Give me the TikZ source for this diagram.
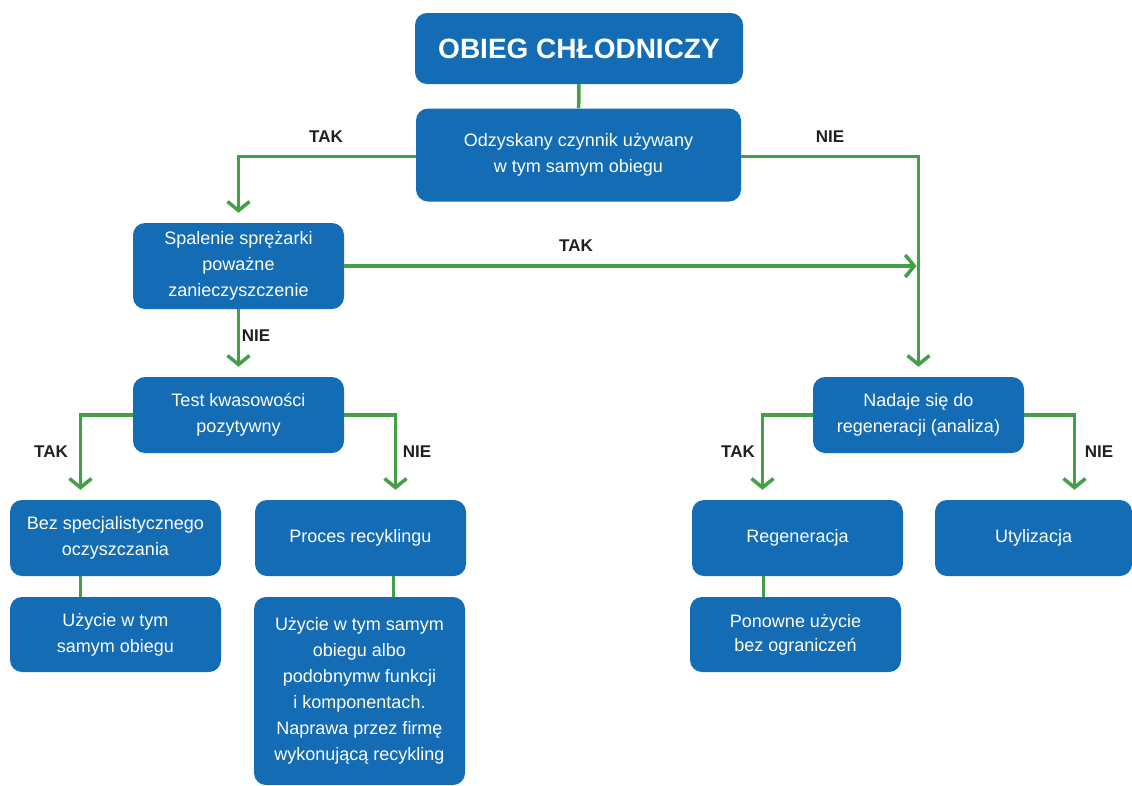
\documentclass[tikz,border=0pt]{standalone}
\usepackage{fontspec}
\setmainfont{Liberation Sans}
\usetikzlibrary{arrows.meta}
\definecolor{boxblue}{RGB}{19,108,180}
\definecolor{arrowgreen}{RGB}{67,160,71}
\definecolor{labelgray}{RGB}{35,31,32}

\begin{document}
\begin{tikzpicture}[x=1pt,y=-1pt,%
	every node/.style = {font=\fontsize{18}{26}\selectfont},
	box/.style = {shape=rectangle, rounded corners=12pt, fill=boxblue, text=white, align=center,
	  minimum width=211pt, minimum height=76pt, inner sep=0pt},
	answer/.style = {font=\fontsize{17}{20}\selectfont\bfseries, text=labelgray},
	link/.style = {draw=arrowgreen, line width=3.5pt},
	arrow/.style = {link, -{Straight Barb[length=9pt,width=22pt]}, shorten >=10pt}
	]
  \useasboundingbox (0,0) rectangle (1132,785);
  \node [box, minimum width=328pt, minimum height=71pt, font=\fontsize{28}{32}\selectfont\bfseries] (title) at (579,48.5) {OBIEG CHŁODNICZY};
  \node [box, minimum width=325pt, minimum height=93pt] (reuse) at (578.5,155) {Odzyskany czynnik używany\\w tym samym obiegu};
  \node [box, minimum height=86pt] (burn) at (238.5,266) {Spalenie sprężarki\\poważne\\zanieczyszczenie};
  \node [box] (acid) at (238.5,415) {Test kwasowości\\pozytywny};
  \node [box] (noclean) at (115.5,538) {Bez specjalistycznego\\oczyszczania};
  \node [box] (recycle) at (360.5,538) {Proces recyklingu};
  \node [box, minimum height=75pt] (samecirc) at (115.5,634.5) {Użycie w tym\\samym obiegu};
  \node [box, minimum height=188pt] (repair) at (359.5,691) {Użycie w tym samym\\obiegu albo\\podobnymw funkcji\\i komponentach.\\Naprawa przez firmę\\wykonującą recykling};
  \node [box] (regen) at (918.5,415) {Nadaje się do\\regeneracji (analiza)};
  \node [box] (regeneration) at (797.5,538) {Regeneracja};
  \node [box, minimum width=197pt] (disposal) at (1033.5,538) {Utylizacja};
  \node [box, minimum height=75pt, font=\fontsize{18}{24}\selectfont] (unlimited) at (795.5,634.5) {Ponowne użycie\\bez ograniczeń};

  \node [answer] (yes1) at (326,137) {TAK};
  \node [answer] (no1) at (830,137) {NIE};
  \node [answer] (yes2) at (576,246) {TAK};
  \node [answer] (no2) at (256,336) {NIE};
  \node [answer] (yes3) at (51,452) {TAK};
  \node [answer] (no3) at (417,452) {NIE};
  \node [answer] (yes4) at (738,452) {TAK};
  \node [answer] (no4) at (1099,452) {NIE};

  \draw [link] (title) -- (reuse);
  \draw [arrow] ([yshift=-1.5pt]reuse.west) -| (burn.north);
  \draw [arrow] ([yshift=-1.5pt]reuse.east) -| (regen.north);
  \draw [arrow, shorten >=2pt] (burn.east) -- (burn.east -| regen.north);
  \draw [arrow] (burn.south) -- (acid.north);
  \draw [arrow] (acid.west) -| ([xshift=-35pt]noclean.north);
  \draw [arrow] (acid.east) -| ([xshift=35pt]recycle.north);
  \draw [arrow] (regen.west) -| ([xshift=-35pt]regeneration.north);
  \draw [arrow] (regen.east) -| ([xshift=41pt]disposal.north);
  \draw [link] ([xshift=-35pt]noclean.south) -- ([xshift=-35pt]samecirc.north);
  \draw [link] ([xshift=33pt]recycle.south) -- ([xshift=34pt]repair.north);
  \draw [link] ([xshift=-34pt]regeneration.south) -- ([xshift=-32pt]unlimited.north);
\end{tikzpicture}
\end{document}
